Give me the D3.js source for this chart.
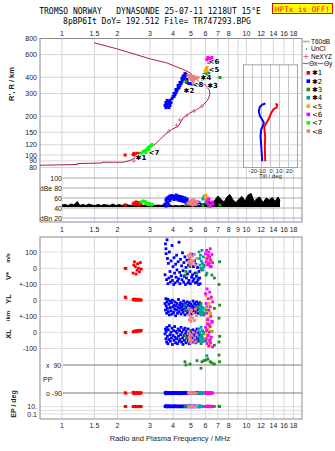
<!DOCTYPE html>
<html><head><meta charset="utf-8">
<script src="https://cdn.jsdelivr.net/npm/d3@7"></script>
<style>
body{margin:0;background:#fff;}
svg{display:block;}
text{font-family:"Liberation Sans",Arial,sans-serif;}
</style></head><body>
<svg id="c" width="335" height="451"></svg>
<script>
// ---------- tick labels ----------
const freqTicksTop = [1,1.5,2,3,4,5,6,7,8,10,12,14,16,18];
const freqTicksMid = [1,1.5,2,3,4,5,6,7,8,9,10,12,14,16,18];
const freqTicksBot = [1,1.5,2,3,4,5,6,7,8,10,12,14,16,18];
const gridFreqs = [1,1.5,2,3,4,5,6,7,8,9,10,12,14,16,18];
const heightTicks = [80,90,100,120,150,200,300,400,600,800];
const dbTicks = [100,80,60,40,20];
const dbLabels = ["100","dBe 80","60","40","dBn 20"];
const tiltTicks = [-20,-10,0,10,20];

// ---------- N(h) profile (plasma frequency MHz, real height km) ----------
const profileF = [1.49,1.98,3.0,3.69,4.54,4.94,5.53,6.03,6.30,6.34,6.15,5.74,5.37,4.94,4.54,4.27,3.93,3.62,3.40,3.19,3.0,2.76,2.59,2.49,2.34,2.14,1.65,1.65,1.21,1.21,0.76];
const profileH = [741,666,557,518,460,434,371,346,316,294,265,239,225,212,194,167,158,144,132,121,114,107,101,95.1,90.6,87.9,87.9,86.7,85.9,84.4,83.3];
const neXYZ = [[5.74,239],[5.2,219],[4.75,203],[4.35,187],[4.18,170],[3.8,153],[2.45,90]];

// ---------- tilt inset (deg, km) ----------
const thetaX = [[5.6,251],[7.4,246],[6.7,232],[3.7,228],[1.9,218],[0,206],[-1.9,191],[-4.4,178],[-6.7,167],[-6.7,158],[-5.9,140],[-6.3,117],[-5.9,89.5]];
const thetaY = [[-5.6,251],[-9.2,246],[-11.9,236],[-13,219],[-11.9,202],[-9.2,188],[-7.4,178],[-8.6,167],[-10.3,158],[-11.1,140],[-10.3,117],[-9.2,89.5]];

// ---------- echoes: [freq MHz, range km, amplitude dB] ----------
const topRed = [[2.20,100,46],[2.43,101,48],[2.46,103,50],[2.49,99,47],[2.52,101,52],[2.56,103,49],[2.59,101,51],[2.61,99,46],[2.65,103,50],[2.68,101,48]];
const topBlue = [[3.62,242,48],[3.66,255,56],[3.66,233,44],[3.71,246,60],[3.71,265,52],[3.75,260,58],[3.75,237,50],[3.80,251,62],[3.80,233,46],[3.85,265,55],[3.85,242,64],[3.90,255,59],[3.95,274,65],[4.00,284,61],[4.05,284,57],[4.05,300,63],[4.10,294,60],[4.15,305,66],[4.15,322,58],[4.20,316,62],[4.26,328,64],[4.26,346,56],[4.31,334,60],[4.36,346,63],[4.36,365,55],[4.42,358,59],[4.47,371,62],[4.47,392,54],[4.53,385,58],[4.53,406,61],[4.58,392,57],[4.58,413,53],[4.64,428,56],[4.64,399,60],[4.70,421,52],[4.76,385,58],[4.76,365,55],[4.88,358,50],[5.00,358,53],[5.13,352,49],[5.26,352,52],[5.39,346,48],[5.53,352,51],[5.67,346,47]];
const topGreen3 = [[5.81,385,45],[6.18,406,48],[6.26,428,44],[7.18,399,46],[4.70,371,47]];
const topTeal = [[5.81,399,58],[5.96,413,64],[6.03,428,60],[6.11,406,55],[5.88,421,62],[6.03,392,52]];
const topOrange = [[5.96,444,62],[6.03,460,66],[6.11,477,58],[6.18,452,60]];
const topMagenta = [[6.11,550,50],[6.18,570,56],[6.34,560,46],[6.50,570,52],[6.42,531,44],[6.58,540,48],[6.26,521,58]];
const topLime = [[2.68,102.7,52],[2.75,106.4,54],[2.82,108.3,53],[2.85,104.5,50],[2.89,110.2,48],[2.93,114.3,47],[2.96,110.2,49],[3.00,116.3,48],[3.04,118.5,46],[3.08,120.6,47]];
const topSalmon = [[4.82,413,50],[4.94,413,54],[5.07,406,52],[5.19,406,56],[5.32,399,50],[5.46,399,53],[4.94,399,48],[5.07,392,55],[5.19,385,51],[5.32,392,47],[5.13,378,52],[5.00,385,49],[5.13,365,46]];

// ---------- echo moments: [freq, V* m/s, YL km, XL km, PP deg, EP deg] ----------
const lowRed = [[2.20,0,20,0,-88,12],[2.22,-2,15,-3,-92,11],[2.43,-30,5,2,-85,11],[2.45,20,2,4,-95,10],[2.47,40,8,6,-90,12],[2.50,10,0,8,-88,11],[2.52,-36,4,3,-93,10],[2.55,-12,1,10,-86,11],[2.57,28,6,5,-91,12],[2.60,0,2,9,-89,10],[2.63,-22,0,12,-94,11],[2.66,35,3,7,-87,10],[2.69,-5,1,11,-90,12]];
const lowBlue = [[3.62,-40,-20,-10,-88,12],[3.64,150,-60,20,-92,15],[3.66,120,10,-40,-85,10],[3.67,90,-35,5,-95,18],[3.69,-70,-80,-60,-90,9],[3.71,175,-10,30,-87,14],[3.73,60,-50,-25,-93,11],[3.75,-95,5,-70,-89,16],[3.77,30,-70,15,-91,13],[3.80,-60,-25,-45,-86,10],[3.82,100,-90,40,-94,17],[3.85,-20,-5,-15,-88,12],[3.87,-85,-45,-55,-92,9],[3.90,45,-65,0,-90,15],[3.92,-50,-15,-35,-87,11],[3.95,140,-85,25,-95,14],[3.97,-75,0,-75,-89,10],[4.00,10,-40,-20,-91,16],[4.03,-100,-75,10,-86,12],[4.05,65,-30,-50,-93,9],[4.08,-30,-55,35,-88,13],[4.10,-90,-10,-30,-90,18],[4.13,25,-95,-65,-94,11],[4.15,-55,-35,5,-87,10],[4.18,80,-60,-40,-92,15],[4.20,-10,-20,-5,-89,12],[4.23,-80,-80,-70,-91,9],[4.26,40,-45,20,-86,14],[4.28,-65,5,-25,-93,11],[4.31,160,-70,-55,-88,16],[4.34,-25,-30,10,-90,10],[4.36,-95,-50,-45,-95,13],[4.39,55,-15,-15,-87,12],[4.42,-45,-85,30,-92,9],[4.45,15,-40,-60,-89,15],[4.47,-70,-60,0,-91,11],[4.50,95,-25,-35,-86,14],[4.53,-15,-75,-75,-94,10],[4.56,-85,-5,15,-88,12],[4.58,35,-55,-20,-90,16],[4.61,-50,-35,-50,-93,9],[4.64,70,-90,25,-87,13],[4.67,-100,-20,-10,-92,11],[4.70,5,-65,-65,-89,15],[4.73,-60,-45,5,-91,10],[4.76,50,-10,-40,-86,12],[4.79,-35,-80,-25,-94,14],[4.82,-90,-30,20,-88,9],[4.85,20,-55,-55,-90,16],[4.88,-75,-70,-5,-93,11],[4.91,60,-15,-70,-87,13],[4.94,-20,-40,10,-92,10],[4.97,-95,-60,-30,-89,15],[5.00,30,-25,-45,-91,12],[5.04,-55,-85,0,-86,9],[5.07,85,-50,-20,-94,14],[5.10,-40,-35,-60,-88,11],[5.13,-80,-5,15,-90,13],[5.16,10,-65,-35,-93,10],[5.19,-65,-45,-10,-87,16],[5.23,45,-20,-50,-92,12],[5.26,-30,-75,5,-89,9],[5.29,-90,-55,-25,-91,15],[5.32,25,-30,-65,-86,11],[5.36,-50,-10,-15,-94,13],[5.39,-85,-60,20,-88,10],[5.43,5,-40,-40,-90,12],[5.46,-70,-80,-5,-93,14],[5.50,-100,-25,-55,-87,11],[5.53,-20,-50,-30,-92,9],[5.57,-60,-15,0,-89,15],[5.60,-95,-35,-20,-91,10]];
const lowGreen3 = [[4.64,-42,-30,-20,111,12],[4.70,-20,-60,-40,90,11],[4.94,10,-50,10,96,13],[5.39,-30,-40,-50,118,12],[5.67,0,-20,-70,69,11],[5.74,-10,-70,-30,111,10],[5.88,20,-90,0,118,12],[6.04,-42,-60,-55,122,11],[6.18,30,-120,-20,129,13],[6.36,10,-80,-45,111,12],[6.50,-42,-130,5,103,10],[6.70,-60,-50,-80,96,12],[7.10,-100,-110,-60,154,13],[7.15,40,-30,-25,111,11]];
const lowTeal = [[5.53,100,-40,20,-88,12],[5.57,60,-70,-30,-92,11],[5.60,20,-55,0,-86,13],[5.63,80,-85,-50,-90,10],[5.67,0,-35,30,-94,12],[5.70,45,-90,-20,-88,14],[5.74,110,-60,-60,-91,11],[5.77,30,-45,10,-87,13],[5.81,-10,-75,-40,-93,10],[5.84,70,-50,-10,-89,12],[5.88,10,-80,-55,-90,11],[6.10,-30,-40,15,150,12]];
const lowOrange = [[6.02,60,30,-10,-88,12],[6.10,40,-50,-40,-92,11],[6.18,70,-110,20,-86,13],[6.26,30,-20,-60,-90,10],[6.34,55,-80,-80,-94,12],[6.42,45,10,5,-88,11],[6.14,65,-140,-25,-91,12],[6.30,35,-65,40,-89,13]];
const lowMagenta = [[6.00,90,40,30,-88,12],[6.04,40,-20,-40,-92,11],[6.08,110,-80,10,-86,13],[6.12,60,70,-70,-90,10],[6.16,20,-120,50,-94,12],[6.20,80,10,-20,-88,14],[6.24,100,-60,-85,-91,11],[6.28,30,-150,0,-87,13],[6.32,70,50,-50,-93,10],[6.36,120,-40,35,-89,12],[6.40,50,-100,-65,-90,11],[6.45,10,20,-30,-92,13],[6.50,85,-130,60,-88,12],[6.55,35,-10,-90,-90,10]];
const lowSalmon = [[4.85,80,-50,5,-88,12],[4.88,40,-90,-30,-92,11],[4.91,65,-120,-55,-86,13],[4.94,25,-70,-10,-90,10],[4.97,90,-100,-40,-94,12],[5.00,50,-130,-65,-88,14],[5.04,30,-60,-20,-91,11],[5.10,75,-110,-50,-87,13],[5.16,45,-80,0,-93,10],[5.23,85,-125,-35,-89,12],[5.29,20,-55,-60,-90,11],[5.36,60,-95,-15,-92,13]];

// ---------- noise / amplitude trace ----------
const blackF = [1.00,1.04,1.08,1.12,1.16,1.21,1.25,1.30,1.35,1.40,1.45,1.51,1.57,1.63,1.69,1.75,1.82,1.89,1.96,2.04,2.12,2.20,2.28,2.37,2.46,2.55,2.65,2.75,2.85,2.96,3.08,3.19,3.32,3.44,3.57,3.71,3.85,4.00,4.15,4.31,4.47,4.64,4.82,5.00,5.20,5.39,5.60,5.81,6.04,6.27,6.50,6.75,7.01,7.28,7.56,7.84,8.14,8.45,8.78,9.11,9.46,9.82,10.2,10.6,11.0,11.4,11.8,12.3,12.8,13.3,13.8,14.3,14.8,15.2];
const blackDB = [46,47,45,48,46,53,45,47,45,48,46,45,47,45,47,46,45,48,45,47,45,48,46,45,47,45,48,45,46,45,47,45,46,45,47,44,45,44,45,44,45,44,45,44,45,44,45,48,50,53,49,56,64,57,52,62,67,56,51,58,63,54,66,69,53,59,62,51,60,56,61,53,62,55];

// ---------- annotations ----------
const echoLabels = [["\u27311",2.68,95],["<7",3.15,104],["\u27312",4.88,314],["<8",5.46,349],["\u27314",6.03,402],["\u27313",6.55,343],["<5",6.66,464],["<6",6.66,535]];
const classNames = ["\u27311","\u27312","\u27313","\u27314","<5","<6","<7","<8"];
const classColors = ["#ff0000","#0000ff","#228b22","#00a0a0","#ffa500","#ff00ff","#00ff00","#f08080"];

// ================= drawing =================
const svg = d3.select("#c");
const X0=40, X1=302, T0=38.5, T1=222, L0=237, L1=419;
const x = d3.scaleLog().domain([0.76,20]).range([X0,X1]);
const yH = d3.scaleLog().domain([70,800]).range([175,38.5]);
const yDB = d3.scaleLinear().domain([20,100]).range([218,178]);
const yV = d3.scaleLinear().domain([-100,100]).range([284.5,252]);
const yYL = d3.scaleLinear().domain([-100,100]).range([316.5,284]);
const yXL = d3.scaleLinear().domain([-100,100]).range([348.5,316]);
const yPP = d3.scaleLinear().domain([-90,90]).range([393,365]);
const yEP = d3.scaleLog().domain([0.1,10]).range([414,406.7]);
const xT = d3.scaleLinear().domain([-30,30]).range([243.5,297.5]);

const topSets = [topRed, topBlue, topGreen3, topTeal, topOrange, topMagenta, topLime, topSalmon];
const lowSets = [lowRed, lowBlue, lowGreen3, lowTeal, lowOrange, lowMagenta, [], lowSalmon];

const grid = "#d6d6d6", frame = "#8c8c8c", tickCol = "#222";

// title
svg.append("text").attr("x",150).attr("y",14).attr("text-anchor","middle")
  .style("font-family","'DejaVu Sans Mono',monospace").style("font-size","8px").attr("fill","#000")
  .attr("xml:space","preserve").text("TROMSO NORWAY   DYNASONDE 25-07-11 1218UT 15\u00b0E");
svg.append("text").attr("x",157).attr("y",24).attr("text-anchor","middle")
  .style("font-family","'DejaVu Sans Mono',monospace").style("font-size","8px").attr("fill","#000")
  .text("8pBP6It DoY= 192.512 File= TR747293.BPG");
svg.append("rect").attr("x",272.5).attr("y",3.5).attr("width",60).attr("height",10).attr("fill","#ffff00").attr("stroke","#ff0000");
svg.append("text").attr("x",302.5).attr("y",11.5).attr("text-anchor","middle")
  .style("font-family","'DejaVu Sans Mono',monospace").style("font-size","7.6px").attr("fill","#ff0000").text("HPTx is OFF!");

// ---- upper frame grid ----
const up = svg.append("g");
gridFreqs.forEach(f=>{
  up.append("line").attr("x1",x(f)).attr("x2",x(f)).attr("y1",T0).attr("y2",T1).attr("stroke",grid);
  svg.append("line").attr("x1",x(f)).attr("x2",x(f)).attr("y1",L0).attr("y2",L1).attr("stroke",grid);
});
heightTicks.forEach(h=>{
  up.append("line").attr("x1",X0).attr("x2",X1).attr("y1",yH(h)).attr("y2",yH(h)).attr("stroke",grid);
  svg.append("text").attr("x",37).attr("y",yH(h)+2.5).attr("text-anchor","end").style("font-size","7px").attr("fill",tickCol).text(h);
});
dbTicks.forEach((d,i)=>{
  up.append("line").attr("x1",63).attr("x2",X1).attr("y1",yDB(d)).attr("y2",yDB(d)).attr("stroke", d===20?"#a8a8e8":"#a6a6a6");
  svg.append("text").attr("x",62).attr("y",yDB(d)+2.5).attr("text-anchor","end").style("font-size","7px").attr("fill",tickCol).text(dbLabels[i]);
});
svg.append("rect").attr("x",X0).attr("y",T0).attr("width",X1-X0).attr("height",T1-T0).attr("fill","none").attr("stroke",frame);

freqTicksTop.forEach(f=>svg.append("text").attr("x",x(f)).attr("y",35.5).attr("text-anchor","middle").style("font-size","7px").attr("fill",tickCol).text(f));
freqTicksMid.forEach(f=>svg.append("text").attr("x",x(f)).attr("y",232).attr("text-anchor","middle").style("font-size","7px").attr("fill",tickCol).text(f));
freqTicksBot.forEach(f=>svg.append("text").attr("x",x(f)).attr("y",428).attr("text-anchor","middle").style("font-size","7px").attr("fill",tickCol).text(f));

svg.append("text").attr("transform","translate(14,84) rotate(-90)").attr("text-anchor","middle").style("font-size","7.5px").style("font-weight","bold").attr("fill","#222").text("R', R / km");

// ---- tilt inset ----
const ins = svg.append("g");
ins.append("rect").attr("x",xT(-30)).attr("y",yH(500)).attr("width",xT(30)-xT(-30)).attr("height",yH(80)-yH(500)).attr("fill","#fff");
heightTicks.filter(h=>h<=500).forEach(h=>ins.append("line").attr("x1",xT(-30)).attr("x2",xT(30)).attr("y1",yH(h)).attr("y2",yH(h)).attr("stroke",grid));
tiltTicks.forEach(t=>{
  ins.append("line").attr("x1",xT(t)).attr("x2",xT(t)).attr("y1",yH(500)).attr("y2",yH(80)).attr("stroke","#c4c4d0");
});
ins.append("rect").attr("x",xT(-30)).attr("y",yH(500)).attr("width",xT(30)-xT(-30)).attr("height",yH(80)-yH(500)).attr("fill","none").attr("stroke","#a0a0b0");
ins.append("text").attr("x",xT(0)).attr("y",172.5).attr("text-anchor","middle").style("font-size","6px").attr("fill",tickCol).attr("xml:space","preserve").text("-20-10  0  10  20");
ins.append("text").attr("x",xT(0)).attr("y",178).attr("text-anchor","middle").style("font-size","6px").attr("fill",tickCol).text("Tilt / deg");
const tl = d3.line().x(d=>xT(d[0])).y(d=>yH(d[1]));
ins.append("path").attr("d",tl(thetaY)).attr("fill","none").attr("stroke","#0000ff").attr("stroke-width",2);
ins.append("path").attr("d",tl(thetaX)).attr("fill","none").attr("stroke","#ff0000").attr("stroke-width",2);

// ---- profile ----
const pl = d3.line().x((d,i)=>x(profileF[i])).y((d,i)=>yH(profileH[i]));
svg.append("path").attr("d",pl(profileF)).attr("fill","none").attr("stroke","#a8204c").attr("stroke-width",1);

// ---- echoes in range panel ----
topSets.forEach((set,ci)=>{
  svg.append("g").selectAll("rect").data(set).join("rect")
    .attr("x",d=>x(d[0])-1.5).attr("y",d=>yH(d[1])-1.5).attr("width",3).attr("height",3).attr("fill",classColors[ci]);
});
svg.append("g").selectAll("path").data(neXYZ).join("path")
  .attr("d",d=>{const px=x(d[0]),py=yH(d[1]);return `M${px-2},${py}h4M${px},${py-2}v4`;})
  .attr("stroke","#e86a8a").attr("stroke-width",1);

svg.append("g").selectAll("text").data(echoLabels).join("text")
  .attr("x",d=>x(d[1])).attr("y",d=>yH(d[2])+2.5).attr("text-anchor","middle")
  .style("font-family","'DejaVu Sans',sans-serif").style("font-size","7px").style("font-weight","bold")
  .attr("fill","#000").attr("stroke","#fff").attr("stroke-width",1.5).attr("paint-order","stroke").text(d=>d[0]);

// ---- amplitude panel ----
const area = d3.area().x((d,i)=>x(blackF[i])).y0(yDB(42)).y1((d,i)=>yDB(blackDB[i]));
svg.append("path").attr("d",area(blackF)).attr("fill","#000");
const bl = d3.line().x((d,i)=>x(blackF[i])).y((d,i)=>yDB(blackDB[i]));
svg.append("path").attr("d",bl(blackF)).attr("fill","none").attr("stroke","#000").attr("stroke-width",1);
topSets.forEach((set,ci)=>{
  svg.append("g").selectAll("rect").data(set).join("rect")
    .attr("x",d=>x(d[0])-1.5).attr("y",d=>yDB(d[2])-1.5).attr("width",3).attr("height",3).attr("fill",classColors[ci]);
});

// ---- lower frame ----
const lowLines = [[yV,100],[yV,0],[yV,-100],[yYL,0],[yYL,-100],[yXL,0],[yXL,-100]];
lowLines.forEach(([s,v])=>svg.append("line").attr("x1",X0).attr("x2",X1).attr("y1",s(v)).attr("y2",s(v)).attr("stroke","#e2dae2"));
[10,1,0.1].forEach(v=>svg.append("line").attr("x1",X0).attr("x2",X1).attr("y1",yEP(v)).attr("y2",yEP(v)).attr("stroke","#dcdcdc"));
[90,-90].forEach(v=>svg.append("line").attr("x1",63).attr("x2",X1).attr("y1",yPP(v)).attr("y2",yPP(v)).attr("stroke","#7a7a7a"));
svg.append("rect").attr("x",X0).attr("y",L0).attr("width",X1-X0).attr("height",L1-L0).attr("fill","none").attr("stroke",frame);

const lowLabels = [[yV(100),"100"],[yV(0),"0"],[yV(-100),"+-100"],[yYL(0),"0"],[yYL(-100),"+-100"],[yXL(0),"0"],[yXL(-100),"-100"],[yEP(10),"10."],[yEP(0.1),"0.1"]];
lowLabels.forEach(([yy,t])=>svg.append("text").attr("x",37).attr("y",yy+2.5).attr("text-anchor","end").style("font-size","7px").attr("fill",tickCol).text(t));
svg.append("text").attr("x",46).attr("y",yPP(90)+2.5).style("font-size","7px").attr("fill",tickCol).attr("xml:space","preserve").text("x  90");
svg.append("text").attr("x",43).attr("y",381.5).style("font-size","7px").attr("fill",tickCol).text("PP");
svg.append("text").attr("x",46).attr("y",yPP(-90)+2.5).style("font-size","7px").attr("fill",tickCol).text("o -90");

const rot = (xx,yy,t,fs)=>svg.append("text").attr("transform",`translate(${xx},${yy}) rotate(-90)`).attr("text-anchor","middle").style("font-size",fs).style("font-weight","bold").attr("fill","#222").text(t);
rot(11,276,"V*","7.5px");
rot(10,258,"m/s","5.5px");
rot(11,299,"YL","7.5px");
rot(10,316,"/km","6px");
rot(11,334,"XL","7.5px");
rot(16,404,"EP / deg","7px");

svg.append("text").attr("x",170).attr("y",441).attr("text-anchor","middle").style("font-size","7.5px").attr("fill","#222").text("Radio and Plasma Frequency / MHz");

const ls = 2.8;
lowSets.forEach((set,ci)=>{
  const g = svg.append("g").attr("fill",classColors[ci]);
  const scs = [[1,yV],[2,yYL],[3,yXL],[4,yPP],[5,yEP]];
  scs.forEach(([k,s])=>{
    g.selectAll(null).data(set).join("rect")
      .attr("x",d=>x(d[0])-ls/2).attr("y",d=>s(d[k])-ls/2).attr("width",ls).attr("height",ls);
  });
});

// ---- legend ----
const lg = svg.append("g");
const lfs = "6.5px";
lg.append("line").attr("x1",303).attr("x2",309.5).attr("y1",41.5).attr("y2",41.5).attr("stroke","#aaa").attr("stroke-width",1.5);
lg.append("text").attr("x",311).attr("y",43.5).style("font-size",lfs).attr("fill","#000").text("T60dB");
lg.append("rect").attr("x",306).attr("y",48.5).attr("width",1).attr("height",1).attr("fill","#000");
lg.append("text").attr("x",311).attr("y",51).style("font-size",lfs).attr("fill","#000").text("UnCl");
lg.append("path").attr("d","M303.5,56.5h5M306,54v5").attr("stroke","#e86a8a");
lg.append("text").attr("x",311).attr("y",58.5).style("font-size",lfs).attr("fill","#000").text("NeXYZ");
lg.append("line").attr("x1",302.5).attr("x2",308.5).attr("y1",63.5).attr("y2",63.5).attr("stroke","#e05070").attr("stroke-width",1.2);
lg.append("text").attr("x",309).attr("y",66).style("font-size",lfs).attr("fill","#000").text("\u0398x");
lg.append("line").attr("x1",317.5).attr("x2",323.5).attr("y1",63.5).attr("y2",63.5).attr("stroke","#7070e0").attr("stroke-width",1.2);
lg.append("text").attr("x",324).attr("y",66).style("font-size",lfs).attr("fill","#000").text("\u0398y");
classNames.forEach((n,i)=>{
  const cy = 72.8 + i*8.33;
  lg.append("rect").attr("x",306.5).attr("y",cy-1.8).attr("width",3.6).attr("height",3.6).attr("fill",classColors[i]);
  lg.append("text").attr("x",312).attr("y",cy+2.6).style("font-family","'DejaVu Sans',sans-serif").style("font-size","7px").attr("fill","#000").text(n);
});
</script></body></html>
